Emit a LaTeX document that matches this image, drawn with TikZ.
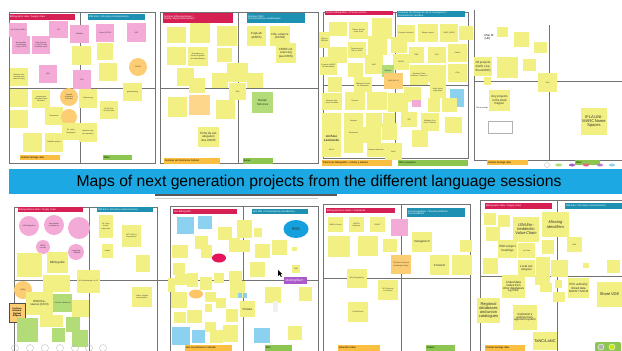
\documentclass[tikz,border=0pt]{standalone}
\usepackage{fontspec}
\setmainfont{Liberation Sans}
\usetikzlibrary{shapes.geometric}
\definecolor{yl}{RGB}{242,240,130}
\definecolor{pk}{RGB}{244,170,214}
\definecolor{orc}{RGB}{253,205,115}
\definecolor{or2}{RGB}{253,214,140}
\definecolor{gr}{RGB}{178,220,120}
\definecolor{bl}{RGB}{140,210,240}
\definecolor{hred}{RGB}{214,32,84}
\definecolor{hteal}{RGB}{30,145,178}
\definecolor{lor}{RGB}{250,190,64}
\definecolor{lgr}{RGB}{140,198,80}
\definecolor{ban}{RGB}{28,168,226}
\definecolor{frm}{RGB}{115,115,115}
\definecolor{pur}{RGB}{170,90,200}
\definecolor{iris}{RGB}{20,160,220}
\definecolor{crim}{RGB}{230,20,90}
\newcommand\ftB{\fontsize{3}{3.4}\selectfont}
\newcommand\ftC{\fontsize{4}{4.6}\selectfont}
\newcommand\stk[7]{%
 \pgfmathsetmacro\stkw{#4-#2}\pgfmathsetmacro\stkh{#5-#3}%
 \pgfmathsetmacro\stkt{#4-#2-1.2}%
 \pgfmathsetmacro\stkx{(#2+#4)/2}\pgfmathsetmacro\stky{(#3+#5)/2}%
 \node[note,fill=#6,minimum width=\stkw pt,minimum height=\stkh pt,text width=\stkt pt] (#1) at (\stkx,\stky) {#7};}
\newcommand\stc[6]{%
 \pgfmathsetmacro\stkd{2*#4}\pgfmathsetmacro\stkt{1.4*#4}%
 \node[note,circle,fill=#5,minimum size=\stkd pt,text width=\stkt pt] (#1) at (#2,#3) {#6};}
\newcommand\hdr[8]{%
 \pgfmathsetmacro\stkw{#4-#2}\pgfmathsetmacro\stkh{#5-#3}%
 \pgfmathsetmacro\stkt{#4-#2-1.5}%
 \pgfmathsetmacro\stkx{(#2+#4)/2}\pgfmathsetmacro\stky{(#3+#5)/2}%
 \node[hdrbox,fill=#6,text=#7,minimum width=\stkw pt,minimum height=\stkh pt,text width=\stkt pt] (#1) at (\stkx,\stky) {#8};}
\begin{document}
\begin{tikzpicture}[x=1pt,y=-1pt,
  note/.style={inner sep=0.3pt,align=center,font=\fontsize{1.8}{2.1}\selectfont,text=black!80},
  hdrbox/.style={inner sep=0.3pt,align=left,font=\fontsize{2.4}{2.7}\selectfont},
  frame/.style={draw=frm,line width=0.7pt},
  icon/.style={circle,draw=gray!50,line width=0.4pt,minimum size=7pt,inner sep=0pt}]
\useasboundingbox (0,0) rectangle (622,351);
\clip (0,0) rectangle (622,351);
\fill[white] (0,0) rectangle (622,351);
% ---------- frames ----------
\draw[frame] (9,12) rectangle (155,163); \draw[frame] (80,12) -- (80,163); \draw[frame] (9,88) -- (155,88);
\draw[frame] (160,12) rectangle (318,163); \draw[frame] (238,12) -- (238,163); \draw[frame] (160,88) -- (318,88);
\draw[frame] (323,12) rectangle (468,158); \draw[frame] (395,12) -- (395,158); \draw[frame] (323,85) -- (468,85);
\draw[frame] (474,10) -- (474,160) -- (622,160); \draw[frame] (549,25) -- (549,160); \draw[frame] (474,81) -- (622,81);
\draw[frame] (14,351) -- (14,207) -- (157,207) -- (157,351); \draw[frame] (89,207) -- (89,351); \draw[frame] (14,280) -- (170,280);
\draw[frame] (170,351) -- (170,206) -- (318,206) -- (318,351); \draw[frame] (243,206) -- (243,351); \draw[frame] (170,280) -- (318,280);
\draw[frame] (323,351) -- (323,204) -- (470,204) -- (470,351); \draw[frame] (401,204) -- (401,351); \draw[frame] (323,278) -- (470,278);
\draw[frame] (480,351) -- (480,200) -- (622,200); \draw[frame] (557,200) -- (557,351); \draw[frame] (480,276) -- (622,276);
\draw[gray!40,line width=0.4pt] (155,198) -- (318,198);
% ---------- banner ----------
\node[fill=ban,minimum width=613pt,minimum height=25pt,inner sep=0pt] (banner) at (315.5,181.5) {};
\node[font=\fontsize{15.7}{17}\selectfont,text=black,inner sep=0pt] (title) at (319,182) {Maps of next generation projects from the different language sessions};
\draw[gray!70!black,line width=1.5pt] (155,195) -- (337,195);
% ---------- panel 1 ----------
\stk{a1}{9}{23}{27}{37}{pk}{Jisc Plan M (NBK)}
\stk{a2}{12}{36}{30}{54}{pk}{Art Metadata Transferring Project (ATD)}
\stk{a3}{32}{36}{50}{54}{pk}{Debt Scarcity of DOAP study metadata report}
\stk{a4}{49}{21}{68}{38}{pk}{ISP}
\stk{a5}{70}{25}{89}{43}{pk}{Wikidata}
\stk{a6}{96}{24}{114}{42}{pk}{Project FREYA}
\stk{a7}{127}{23}{146}{42}{pk}{RSP}
\stk{a8}{72}{46}{91}{65}{yl}{}
\stk{a9}{97}{43}{113}{60}{yl}{}
\stk{a10}{39}{65}{57}{83}{pk}{ISNI}
\stk{a11}{73}{70}{91}{89}{pk}{DOI}
\stc{a12}{138}{67}{9}{orc}{ORCID}
\stk{a13}{10}{68}{28}{86}{yl}{Libraries transitioning from batch to entity}
\stk{a14}{99}{63}{117}{81}{yl}{}
\stk{a15}{123}{83}{142}{101}{yl}{gemeinsamig}
\stk{a16}{10}{89}{28}{107}{yl}{}
\stk{a17}{32}{90}{50}{108}{yl}{International Standard Name Identifiers}
\stk{a19}{79}{89}{97}{108}{yl}{Schema.org}
\stc{a18}{69}{97}{9}{orc}{Towards a National Collection}
\stk{a20}{45}{107}{63}{125}{yl}{Europeana}
\stc{a21}{69}{117}{8}{orc}{}
\stk{a22}{100}{101}{118}{119}{yl}{RLUK Digital Shift work}
\stk{a23}{10}{110}{28}{128}{yl}{}
\stk{a24}{62}{123}{80}{140}{yl}{BL Union Catalogues}
\stk{a25}{79}{123}{97}{142}{yl}{Hathitrust digital repository}
\stk{a26}{23}{133}{42}{152}{yl}{}
\stk{a27}{45}{133}{63}{152}{yl}{NatioNet project}
\hdr{a28}{9}{14}{75}{20}{hred}{white}{Bibliographic data / Supply chain}
\hdr{a29}{88}{14}{145}{20}{hteal}{white}{RIM data / Scholarly communications}
\hdr{a30}{20}{155}{60}{160}{lor}{black}{Cultural heritage data}
\hdr{a31}{103}{155}{132}{160}{lgr}{black}{Other}
% ---------- panel 2 ----------
\stk{b1}{167}{27}{186}{43}{yl}{}
\stk{b2}{190}{23}{210}{43}{yl}{}
\stk{b3}{217}{26}{237}{46}{yl}{}
\stk{b4}{247}{26}{266}{46}{yl}{\ftB CapLab (ABES)}
\stk{b5}{270}{26}{290}{46}{yl}{\ftB HAL-science (CCSD)}
\stk{b6}{276}{43}{296}{63}{yl}{\ftB CERIF referencing (auxCRIS)}
\stk{b7}{167}{47}{186}{65}{yl}{}
\stk{b8}{188}{47}{208}{66}{yl}{Nouveaux systèmes de gestion des bibliothèques}
\stk{b9}{217}{48}{232}{62}{yl}{}
\stk{b10}{177}{68}{194}{86}{yl}{}
\stk{b11}{189}{78}{205}{93}{yl}{}
\stk{b13}{212}{73}{228}{88}{yl}{}
\stk{b14}{247}{73}{263}{88}{yl}{}
\stk{b12}{227}{63}{248}{82}{yl}{}
\stk{b15}{229}{83}{246}{100}{yl}{ISNI}
\stk{b16}{252}{92}{273}{113}{gr}{\ftB Dariah Services}
\stk{b17}{168}{97}{187}{117}{yl}{}
\stk{b18}{189}{95}{210}{115}{or2}{}
\stk{b19}{216}{100}{235}{119}{yl}{}
\stk{b20}{198}{127}{219}{147}{yl}{\ftB Fiche de catalogation des UOCB}
\hdr{b21}{163}{13}{233}{23}{hred}{white}{Données Bibliographiques /\\Chaîne d'approvisionnement}
\hdr{b22}{247}{13}{305}{23}{hteal}{white}{Données RIM /\\Communications académiques}
\hdr{b23}{164}{158}{220}{164}{lor}{black}{Données du Patrimoine Culturel}
\hdr{b24}{243}{158}{273}{164}{lgr}{black}{Autres}
% ---------- panel 3 ----------
\stk{c1}{329}{22}{347}{36}{yl}{}
\stk{c2}{349}{22}{368}{39}{yl}{Tesauro de Materias UCM}
\stk{c3}{372}{18}{392}{39}{yl}{}
\stk{c4}{319}{32}{330}{48}{yl}{RDA en REBIUN}
\stk{c5}{397}{25}{415}{42}{yl}{Proyecto Hércules}
\stk{c6}{418}{24}{438}{42}{yl}{Bloque Antena}
\stk{c7}{440}{24}{458}{42}{yl}{GREC (CRIS)}
\stk{c8}{459}{26}{473}{40}{yl}{}
\stk{c9}{328}{47}{347}{63}{yl}{}
\stk{c10}{348}{42}{366}{58}{yl}{Tesauros de la UB en SKOS}
\stk{c11}{368}{36}{387}{55}{yl}{}
\stk{c12}{391}{37}{407}{53}{yl}{}
\stk{c13}{409}{47}{424}{63}{yl}{FAIR}
\stk{c14}{428}{47}{446}{63}{yl}{PAC}
\stk{c15}{448}{44}{467}{62}{yl}{Dialnet}
\stk{c16}{320}{57}{337}{75}{yl}{Proyecto LIBAPP de Autoridades}
\stk{c17}{348}{63}{363}{77}{yl}{}
\stk{c18}{365}{55}{383}{74}{yl}{VIAF}
\stk{c19}{393}{54}{409}{70}{yl}{ORCID}
\stk{c20}{382}{65}{394}{77}{gr}{Wikidata}
\stk{c21}{384}{73}{403}{89}{orc}{ISNI (OCLC)}
\stk{c22}{410}{65}{428}{85}{yl}{Research Data Publisher / Scope ID}
\stk{c23}{428}{65}{446}{82}{yl}{}
\stk{c24}{448}{64}{467}{82}{yl}{PIDs}
\stk{c25}{328}{77}{342}{92}{yl}{}
\stk{c26}{354}{77}{372}{92}{yl}{Biblioteca Virtual de Patrimonio}
\stk{c27}{322}{93}{342}{110}{yl}{Memoria Digital de Canarias}
\stk{c28}{345}{92}{365}{110}{yl}{Dezione}
\stk{c29}{367}{92}{387}{110}{yl}{}
\stk{c30}{388}{93}{408}{112}{yl}{}
\stk{c31}{404}{87}{421}{102}{yl}{}
\stk{c32}{412}{100}{421}{107}{pk}{}
\stk{c33}{430}{82}{446}{98}{yl}{Open Knowledge Maps}
\stk{c34}{450}{89}{464}{107}{bl}{}
\stk{c35}{428}{98}{440}{112}{yl}{}
\stk{c36}{442}{98}{457}{112}{yl}{}
\stk{c37}{322}{113}{341}{130}{yl}{}
\stk{c38}{344}{113}{363}{130}{yl}{Hispana}
\stk{c39}{366}{113}{382}{127}{yl}{}
\stk{c40}{383}{113}{395}{124}{yl}{}
\stk{c41}{401}{112}{417}{127}{yl}{SIE}
\stk{c42}{421}{113}{439}{131}{yl}{Wikidata (Content \& Citizens)}
\stk{c43}{445}{117}{462}{133}{yl}{}
\stk{c44}{322}{130}{341}{147}{yl}{\ftB\bfseries Archivo Lenmende}
\stk{c45}{344}{127}{363}{140}{yl}{Europeana}
\stk{c46}{362}{127}{381}{143}{yl}{}
\stk{c47}{382}{123}{397}{140}{yl}{}
\stk{c48}{412}{130}{428}{147}{yl}{}
\stk{c49}{322}{143}{341}{157}{yl}{ARCA}
\stk{c50}{344}{140}{363}{153}{yl}{}
\stk{c51}{367}{143}{385}{157}{yl}{Tesauro patrimonio}
\stk{c52}{385}{143}{402}{160}{yl}{BAIC}
\hdr{c53}{325}{11}{393}{15}{hred}{white}{Contról bibliográfico / Proceso técnico}
\hdr{c54}{397}{11}{465}{17}{hteal}{white}{Iniciativas de información de la investigación /\\Comunicación científica}
\hdr{c55}{322}{160}{392}{166}{lor}{black}{Patrimonio bibliográfico, cultural y artístico}
\hdr{c56}{398}{160}{468}{166}{lgr}{black}{Otros proyectos}
% ---------- panel 4 ----------
\node[font=\fontsize{2.8}{3.2}\selectfont,align=left,inner sep=0pt] (d0) at (489,37) {Plan M\\(UK)};
\stk{d1}{497}{27}{508}{37}{yl}{}
\stk{d2}{514}{32}{529}{47}{yl}{}
\stk{d3}{534}{42}{547}{53}{yl}{}
\stk{d4}{474}{57}{492}{76}{yl}{\ftB Oil projects (Delft, Live, ShareVDE)}
\stk{d5}{484}{77}{491}{85}{yl}{}
\stk{d6}{497}{57}{518}{78}{yl}{}
\stk{d7}{523}{59}{536}{71}{yl}{}
\stk{d8}{538}{73}{557}{92}{yl}{ISNI}
\stk{d9}{489}{90}{510}{111}{yl}{\ftB Any projects in the Arab Region}
\node[font=\fontsize{1.8}{2}\selectfont,inner sep=0pt] (d10) at (482,108) {This is a sticky};
\node[draw=gray!60,fill=white,minimum width=24pt,minimum height=12pt,inner sep=0.5pt,font=\fontsize{1.6}{1.9}\selectfont,text width=20pt,align=center] (d11) at (500,127) {};
\stk{d12}{581}{108}{607}{135}{yl}{\ftC IFLA UNIMARC Name Spaces}
\hdr{d13}{487}{160}{528}{165}{lor}{black}{Cultural heritage data}
\hdr{d14}{575}{160}{600}{165}{lgr}{black}{Other}
\node[icon,minimum size=5pt] (d15) at (547,165) {};
\fill[gr] (d15.east) ++(9,0) ellipse (3.5pt and 1.5pt);
\fill[pur] (572,165) ellipse (3pt and 1.5pt);
\fill[crim!70] (586,165) ellipse (3pt and 1.5pt);
\fill[pur!80] (600,165) ellipse (3pt and 1.5pt);
\fill[bl] (612,165) ellipse (3pt and 1.5pt);
% ---------- panel 5 ----------
\stc{e1}{29}{226}{10}{pk}{VB Databanken}
\stc{e2}{54}{225}{10}{pk}{Automatisch metadateren}
\stc{e3}{79}{228}{11}{pk}{}
\stc{e4}{43}{247}{7}{pk}{NBEO records}
\stc{e5}{76}{252}{8}{pk}{Koppeling ... Wikidata}
\stk{e6}{99}{215}{113}{238}{yl}{NL Open Knowledge base}
\stk{e7}{122}{225}{141}{247}{yl}{JATS XML in Repositories}
\stk{e8}{102}{244}{113}{258}{yl}{Kaad?}
\stk{e9}{136}{255}{150}{272}{yl}{}
\stk{e10}{17}{253}{42}{277}{yl}{}
\stk{e11}{47}{252}{68}{273}{yl}{\ftB Bibliografie}
\stk{e12}{43}{275}{70}{292}{yl}{}
\stk{e13}{77}{270}{100}{293}{yl}{NL Bronkatalogie en LD}
\stc{e14}{23}{290}{9}{orc}{OERA}
\stk{e15}{26}{292}{53}{315}{yl}{\ftB WO2 thesaurus (CCO)}
\stk{e16}{53}{294}{72}{312}{gr}{Collectie Nederland}
\stk{e17}{72}{300}{89}{317}{yl}{}
\node[draw=black!70,fill=orc,minimum width=16pt,minimum height=19pt,inner sep=0.3pt,text width=15pt,align=center,font=\fontsize{2.2}{2.6}\selectfont\bfseries] (e18) at (17,312.5) {Centrum Netwerk Digitaal Erfgoed};
\stk{e19}{40}{315}{63}{327}{yl}{}
\stk{e20}{17}{318}{38}{342}{gr}{}
\stk{e21}{66}{317}{80}{332}{gr}{}
\stk{e22}{52}{328}{65}{342}{gr}{}
\stk{e23}{72}{330}{88}{347}{gr}{}
\stk{e24}{132}{287}{152}{307}{yl}{Cultuur Digitale Humaniteiten}
\hdr{e25}{18}{207}{83}{212}{hred}{white}{Bibliografische data / Supply chain}
\hdr{e26}{97}{207}{153}{212}{hteal}{white}{RIM data / Scholarly communications}
\foreach \ix in {15,30,45,60,75,89,103} {\node[icon] at (\ix,348) {};}
% ---------- panel 6 ----------
\stk{f1}{177}{217}{194}{234}{bl}{}
\stk{f2}{198}{216}{212}{229}{bl}{}
\stk{f3}{218}{227}{232}{240}{yl}{}
\stk{f4}{237}{220}{252}{238}{yl}{}
\stk{f5}{254}{228}{262}{237}{yl}{}
\node[ellipse,fill=iris,minimum width=25pt,minimum height=18pt,inner sep=0pt,font=\fontsize{4}{4}\selectfont,text=black!80] (f6) at (296,229) {IRIS};
\stk{f7}{195}{236}{208}{249}{yl}{}
\stk{f8}{201}{245}{212}{258}{yl}{}
\stk{f9}{172}{245}{188}{258}{yl}{}
\stk{f10}{229}{238}{240}{252}{yl}{}
\stk{f11}{238}{240}{250}{252}{yl}{}
\stk{f12}{255}{244}{270}{258}{yl}{}
\stk{f13}{272}{240}{287}{255}{yl}{}
\stk{f14}{292}{247}{297}{251}{yl}{}
\node[ellipse,fill=crim,minimum width=14pt,minimum height=9pt,inner sep=0pt] (f15) at (219,258) {};
\stk{f16}{173}{263}{185}{275}{yl}{}
\stk{f17}{250}{262}{265}{277}{yl}{}
\stk{f18}{292}{265}{300}{273}{yl}{ROR}
\stk{f19}{175}{274}{188}{285}{yl}{}
\stk{f20}{187}{273}{198}{287}{yl}{}
\stk{f21}{200}{277}{212}{290}{yl}{}
\stk{f22}{214}{273}{224}{283}{yl}{}
\stk{f23}{229}{271}{242}{282}{yl}{}
\stk{f24}{168}{278}{175}{292}{yl}{}
\stk{f25}{230}{281}{245}{298}{yl}{}
\stk{f26}{238}{293}{242}{298}{bl}{}
\stk{f27}{243}{293}{247}{298}{bl}{}
\stk{f28}{171}{292}{187}{308}{yl}{}
\node[ellipse,fill=orc!90!orange,minimum width=14pt,minimum height=9pt,inner sep=0pt] (f29) at (196,294) {};
\stk{f30}{205}{292}{216}{302}{yl}{}
\stk{f31}{216}{298}{226}{308}{yl}{}
\stk{f32}{240}{301}{255}{317}{yl}{\ftB Omeka}
\stk{f33}{265}{287}{281}{303}{yl}{}
\stk{f34}{299}{287}{312}{301}{yl}{}
\node[fill=gray!12,minimum width=5pt,minimum height=11pt,inner sep=0pt] (f35) at (275.5,306.5) {};
\stk{f36}{205}{304}{212}{312}{yl}{}
\stk{f37}{174}{312}{186}{323}{yl}{}
\stk{f38}{187}{310}{202}{323}{yl}{}
\stk{f39}{226}{309}{238}{322}{yl}{}
\stk{f40}{205}{322}{216}{332}{yl}{}
\stk{f41}{172}{327}{190}{345}{bl}{}
\stk{f42}{192}{330}{205}{343}{bl}{}
\stk{f43}{210}{330}{223}{343}{yl}{}
\stk{f44}{223}{325}{238}{342}{yl}{}
\stk{f45}{254}{328}{270}{343}{bl}{}
\stk{f46}{288}{326}{302}{340}{yl}{}
\hdr{f47}{173}{209}{237}{214}{hred}{white}{Dati Bibliografici}
\hdr{f48}{252}{209}{308}{214}{hteal}{white}{Dati RIM / Comunicazione accademica}
\hdr{f49}{185}{345}{232}{351}{lor}{black}{Dati sul patrimonio culturale}
\hdr{f50}{265}{345}{292}{351}{lgr}{black}{Altro}
\hdr{f51}{284}{277}{307}{284}{pur}{white}{\fontsize{3.2}{3.4}\selectfont\ Visiting Bern}
\fill[black] (278,270) -- (278,276) -- (279.5,274.6) -- (281,277) -- (281.8,276.6) -- (280.4,274.3) -- (282.4,274.1) -- cycle;
% ---------- panel 7 ----------
\stk{g1}{328}{217}{343}{232}{yl}{DNB Lit.Verein}
\stk{g2}{349}{217}{364}{232}{yl}{NSRCH Webtrans}
\stk{g3}{370}{217}{385}{232}{yl}{FAUST}
\stk{g4}{391}{219}{408}{236}{pk}{}
\stk{g5}{328}{236}{350}{257}{yl}{}
\stk{g6}{358}{236}{378}{256}{yl}{}
\stk{g7}{383}{239}{397}{252}{yl}{}
\stk{g8}{412}{232}{432}{252}{yl}{\ftB metagrid.ch}
\stk{g9}{460}{240}{472}{252}{yl}{}
\stk{g10}{391}{255}{411}{274}{orc}{TIB Open Research Knowledge Graph}
\stk{g11}{430}{255}{449}{275}{yl}{\ftB Crossref}
\stk{g12}{452}{255}{472}{275}{yl}{}
\stk{g13}{347}{269}{367}{288}{yl}{BGA (Regelwerk)}
\stk{g14}{378}{280}{398}{300}{yl}{RiC (Records in Context)}
\stk{g15}{348}{302}{368}{322}{yl}{GLAM Daten}
\hdr{g16}{326}{208}{395}{213}{hred}{white}{Bibliographische Daten / Datenkette}
\hdr{g17}{407}{208}{465}{217}{hteal}{white}{Forschungsdaten / Wissenschaftliche\\Kommunikation}
\hdr{g18}{338}{345}{380}{351}{lor}{black}{Kulturelle Daten}
\hdr{g19}{426}{345}{455}{351}{lgr}{black}{Andere}
% ---------- panel 8 ----------
\stk{h1}{484}{213}{496}{225}{yl}{}
\stk{h2}{498}{215}{510}{227}{yl}{}
\stk{h3}{513}{217}{539}{242}{yl}{\ftC\itshape ISNI Embedded in Value Chain}
\stk{h4}{542}{212}{569}{237}{yl}{\ftC\itshape Missing identifiers}
\stk{h5}{486}{227}{500}{241}{yl}{}
\stk{h6}{498}{240}{517}{258}{yl}{\ftB RSD subject headings}
\stk{h7}{518}{243}{535}{258}{yl}{LoC Hub}
\stk{h8}{542}{240}{554}{254}{yl}{}
\stk{h9}{567}{237}{582}{252}{yl}{RUX}
\stk{h10}{483}{258}{498}{274}{yl}{}
\stk{h11}{518}{260}{535}{277}{yl}{\ftB Local catalogues}
\stk{h12}{536}{257}{550}{275}{yl}{}
\stk{h13}{551}{260}{568}{277}{yl}{}
\stk{h14}{583}{263}{589}{268}{yl}{}
\stk{h15}{607}{260}{620}{273}{yl}{}
\stk{h16}{502}{275}{525}{298}{yl}{\ftB Linked data nodes from other databases eg VIAF}
\stk{h17}{535}{275}{550}{285}{yl}{}
\stk{h18}{540}{283}{552}{292}{yl}{}
\stk{h19}{555}{280}{562}{288}{yl}{}
\stk{h20}{553}{292}{565}{302}{yl}{}
\stk{h21}{568}{278}{589}{298}{yl}{\ftB PCC authority linked data NACO / SACO}
\stk{h22}{597}{282}{622}{307}{yl}{\ftC Share VDE}
\stk{h23}{477}{298}{500}{323}{yl}{\ftC Regional databases and union catalogues}
\stk{h24}{513}{305}{537}{330}{yl}{\ftB Institution's archive management system}
\stk{h25}{533}{332}{557}{350}{yl}{\ftC TaNC/LaNC}
\hdr{h26}{485}{203}{552}{209}{hred}{white}{Bibliographic data / Supply chain}
\hdr{h27}{565}{203}{622}{209}{hteal}{white}{RIM data / Scholarly communications}
\hdr{h28}{485}{345}{525}{351}{lor}{black}{Cultural heritage data}
\node[fill=lgr,rounded corners=1.5pt,minimum width=26pt,minimum height=10pt,inner sep=0pt] (h29) at (608,347) {};
\node[circle,fill=gray!60,draw=white,minimum size=6pt,inner sep=0pt] (h30) at (601,347) {};
\node[circle,fill=yellow!80!green,draw=white,minimum size=6pt,inner sep=0pt] (h31) at (612,347) {};
\end{tikzpicture}
\end{document}
